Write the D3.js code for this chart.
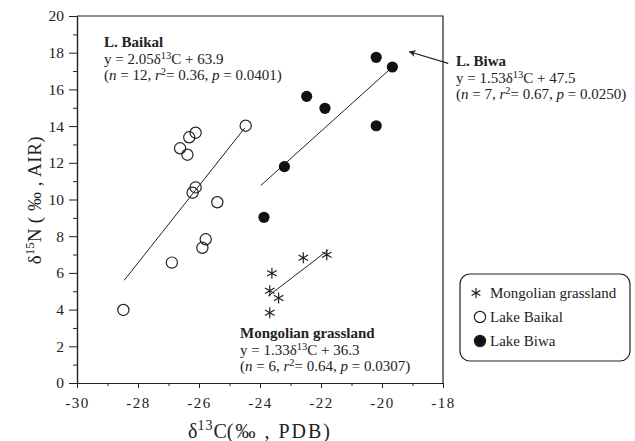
<!DOCTYPE html>
<html>
<head>
<meta charset="utf-8">
<script src="https://cdn.jsdelivr.net/npm/d3@7"></script>
<style>
  body { margin: 0; background: #fff; }
  svg text { font-family: "Liberation Serif", "Times New Roman", serif; fill: #222; }
</style>
</head>
<body>
<svg id="chart" width="635" height="441"></svg>
<script>
"use strict";

// data (delta13C, delta15N)
const mongolian = [[-22.58, 6.83], [-21.81, 6.99], [-23.61, 5.98], [-23.68, 5.03], [-23.39, 4.63], [-23.68, 3.83]];
const baikal = [[-24.47, 14.02], [-26.11, 13.64], [-26.32, 13.39], [-26.62, 12.79], [-26.38, 12.44], [-26.11, 10.66],
  [-26.21, 10.37], [-25.40, 9.85], [-25.78, 7.83], [-25.89, 7.37], [-26.89, 6.56], [-28.48, 3.98]];
const biwa = [[-20.19, 17.75], [-19.66, 17.22], [-22.47, 15.62], [-21.87, 14.97], [-20.19, 14.02], [-23.20, 11.79], [-23.87, 9.03]];

// regression lines, endpoints
const fitMongolian = [[-23.73, 4.74], [-21.76, 7.25]];
const fitBaikal = [[-28.45, 5.6], [-24.5, 13.9]];
const fitBiwa = [[-23.97, 10.77], [-19.66, 17.22]];
const biwaArrow = [[-17.83, 17.42], [-19.1, 18.05]];

const xMajor = [-30, -28, -26, -24, -22, -20, -18];
const xMinor = [-29, -27, -25, -23, -21, -19];
const yMajor = [0, 2, 4, 6, 8, 10, 12, 14, 16, 18, 20];
const yMinor = [1, 3, 5, 7, 9, 11, 13, 15, 17, 19];

const legendItems = ["Mongolian grassland", "Lake Baikal", "Lake Biwa"];

const svg = d3.select("#chart");
const ink = "#222";

const plot = { left: 77, right: 443, top: 16, bottom: 383 };
const x = d3.scaleLinear().domain([-30, -18]).range([plot.left, plot.right]);
const y = d3.scaleLinear().domain([0, 20]).range([plot.bottom, plot.top]);

/* frame (top and right) */
svg.append("path")
  .attr("d", `M${plot.left},${plot.top}H${plot.right}V${plot.bottom}`)
  .attr("fill", "none").attr("stroke", ink).attr("stroke-width", 1.2);

/* axes */
function styleAxis(g) {
  g.attr("font-family", null).attr("font-size", null);
  g.select(".domain").attr("stroke", ink).attr("stroke-width", 1.2);
  g.selectAll(".tick line").attr("stroke", ink).attr("stroke-width", 1);
}

svg.append("g")
  .attr("transform", `translate(0,${plot.bottom})`)
  .call(d3.axisBottom(x).tickValues(xMinor).tickSize(3).tickSizeOuter(0).tickFormat(""))
  .call(styleAxis);
svg.append("g")
  .attr("transform", `translate(0,${plot.bottom})`)
  .call(d3.axisBottom(x).tickValues(xMajor).tickSize(5).tickSizeOuter(0).tickPadding(9).tickFormat(d => String(d)))
  .call(styleAxis)
  .call(g => g.selectAll("text").attr("fill", ink).style("font-size", "15px").style("letter-spacing", "1.5px"));

svg.append("g")
  .attr("transform", `translate(${plot.left},0)`)
  .call(d3.axisLeft(y).tickValues(yMinor).tickSize(4).tickSizeOuter(0).tickFormat(""))
  .call(styleAxis);
svg.append("g")
  .attr("transform", `translate(${plot.left},0)`)
  .call(d3.axisLeft(y).tickValues(yMajor).tickSize(8).tickSizeOuter(0).tickPadding(5).tickFormat(d => String(d)))
  .call(styleAxis)
  .call(g => g.selectAll("text").attr("fill", ink).style("font-size", "15.5px"));

/* axis titles */
const xt = svg.append("text")
  .attr("x", 260).attr("y", 438)
  .attr("text-anchor", "middle")
  .style("font-size", "20px");
xt.append("tspan").text("δ");
xt.append("tspan").attr("dy", -8).style("font-size", "14px").style("letter-spacing", "1px").text("13");
xt.append("tspan").attr("dy", 8).text("C");
xt.append("tspan").style("letter-spacing", "2px").text("(‰ , PDB)");

const yt = svg.append("text")
  .attr("transform", "translate(41,200) rotate(-90)")
  .attr("text-anchor", "middle")
  .style("font-size", "19px");
yt.append("tspan").text("δ");
yt.append("tspan").attr("dy", -7).style("font-size", "13px").text("15");
yt.append("tspan").attr("dy", 7).text("N");
yt.append("tspan").style("letter-spacing", "0.5px").text(" ( ‰ , AIR)");

/* regression lines */
const line = d3.line().x(d => x(d[0])).y(d => y(d[1]));
[fitMongolian, fitBaikal, fitBiwa].forEach(f => {
  svg.append("path").attr("d", line(f)).attr("fill", "none").attr("stroke", ink).attr("stroke-width", 1);
});

/* markers */
function star(g, cx, cy, r) {
  const a = Math.PI / 6;
  const d = `M${cx},${cy - r}V${cy + r}` +
    `M${cx - r * Math.cos(a)},${cy - r * Math.sin(a)}L${cx + r * Math.cos(a)},${cy + r * Math.sin(a)}` +
    `M${cx - r * Math.cos(a)},${cy + r * Math.sin(a)}L${cx + r * Math.cos(a)},${cy - r * Math.sin(a)}`;
  g.append("path").attr("d", d).attr("stroke", ink).attr("stroke-width", 1.2).attr("fill", "none");
}

const pts = svg.append("g");
mongolian.forEach(d => star(pts, x(d[0]), y(d[1]), 5.5));
pts.selectAll("circle.baikal").data(baikal).enter().append("circle")
  .attr("class", "baikal")
  .attr("cx", d => x(d[0])).attr("cy", d => y(d[1])).attr("r", 5.6)
  .attr("fill", "none").attr("stroke", ink).attr("stroke-width", 1.2);
pts.selectAll("circle.biwa").data(biwa).enter().append("circle")
  .attr("class", "biwa")
  .attr("cx", d => x(d[0])).attr("cy", d => y(d[1])).attr("r", 5.6)
  .attr("fill", "#111");

/* arrow to L. Biwa */
svg.append("defs").append("marker")
  .attr("id", "head").attr("viewBox", "0 0 10 10")
  .attr("refX", 9).attr("refY", 5)
  .attr("markerWidth", 11).attr("markerHeight", 7)
  .attr("markerUnits", "userSpaceOnUse")
  .attr("orient", "auto")
  .append("path").attr("d", "M0,0L10,5L0,10L3,5Z").attr("fill", ink);
svg.append("path").attr("d", line(biwaArrow))
  .attr("stroke", ink).attr("stroke-width", 1.2).attr("marker-end", "url(#head)");

/* regression annotations */
function annotate(px, py, name, slope, icept, n, r2, p) {
  const g = svg.append("g").style("font-size", "15px");
  g.append("text").attr("x", px).attr("y", py).style("font-weight", "bold").text(name);
  const e = g.append("text").attr("x", px).attr("y", py + 17);
  e.append("tspan").text(`y = ${slope}δ`);
  e.append("tspan").attr("dy", -5).style("font-size", "10.5px").text("13");
  e.append("tspan").attr("dy", 5).text(`C + ${icept}`);
  const s = g.append("text").attr("x", px).attr("y", py + 33);
  s.append("tspan").text("(");
  s.append("tspan").style("font-style", "italic").text("n");
  s.append("tspan").text(` = ${n}, `);
  s.append("tspan").style("font-style", "italic").text("r");
  s.append("tspan").attr("dy", -5).style("font-size", "10.5px").text("2");
  s.append("tspan").attr("dy", 5).text(`= ${r2}, `);
  s.append("tspan").style("font-style", "italic").text("p");
  s.append("tspan").text(` = ${p})`);
}
annotate(104, 47, "L. Baikal", "2.05", "63.9", 12, "0.36", "0.0401");
annotate(456, 66, "L. Biwa", "1.53", "47.5", 7, "0.67", "0.0250");
annotate(240, 338, "Mongolian grassland", "1.33", "36.3", 6, "0.64", "0.0307");

/* legend */
const lg = svg.append("g").attr("transform", "translate(460,274)");
lg.append("rect").attr("width", 170).attr("height", 87).attr("rx", 10)
  .attr("fill", "#fff").attr("stroke", ink).attr("stroke-width", 1.2);
legendItems.forEach((name, i) => {
  const cy = 19 + i * 24;
  if (i === 0) star(lg, 16, cy, 5);
  else lg.append("circle").attr("cx", 20).attr("cy", cy).attr("r", 5.6)
    .attr("fill", i === 2 ? "#111" : "#fff").attr("stroke", ink).attr("stroke-width", 1.2);
  lg.append("text").attr("x", 30).attr("y", cy + 5).style("font-size", "15px").text(name);
});
</script>
</body>
</html>
